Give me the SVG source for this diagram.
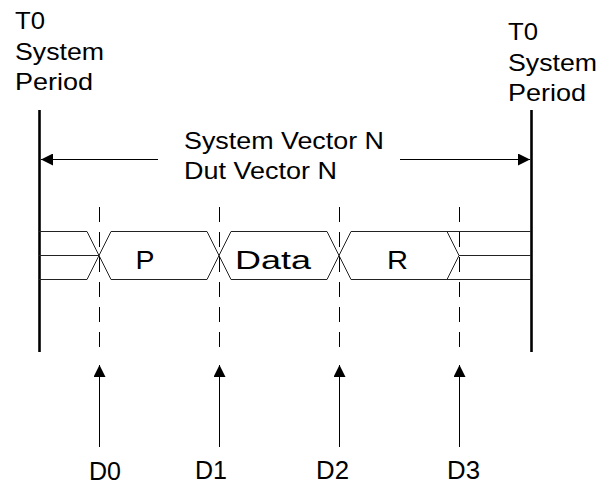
<svg xmlns="http://www.w3.org/2000/svg" width="610" height="486" viewBox="0 0 610 486">
<defs>
<style>
text{font-family:"Liberation Sans",Arial,sans-serif;fill:#000}
.lbl{font-size:24px}
.big{font-size:26px}
.dl{font-size:25px}
.thick{stroke:#000;stroke-width:2.6;fill:none}
.thin{stroke:#000;stroke-width:1;fill:none}
.sig{stroke:#222;stroke-width:1;fill:none}
.dash{stroke:#000;stroke-width:1;fill:none;stroke-dasharray:15 10}
</style>
<marker id="ah" markerUnits="userSpaceOnUse" markerWidth="12" markerHeight="12" refX="12" refY="6" orient="auto">
<path d="M0,0 L12,6 L0,12 z" fill="#000"/>
</marker>
</defs>
<rect width="610" height="486" fill="#fff"/>

<g id="left-period">
<text class="lbl" x="15" y="29" textLength="30" lengthAdjust="spacingAndGlyphs">T0</text>
<text class="lbl" x="15" y="60" textLength="89" lengthAdjust="spacingAndGlyphs">System</text>
<text class="lbl" x="15" y="90" textLength="78" lengthAdjust="spacingAndGlyphs">Period</text>
<line class="thick" x1="39.5" y1="110" x2="39.5" y2="352"/>
</g>

<g id="right-period">
<text class="lbl" x="508" y="40" textLength="30" lengthAdjust="spacingAndGlyphs">T0</text>
<text class="lbl" x="508" y="71" textLength="89" lengthAdjust="spacingAndGlyphs">System</text>
<text class="lbl" x="508" y="101" textLength="78" lengthAdjust="spacingAndGlyphs">Period</text>
<line class="thick" x1="531.5" y1="110" x2="531.5" y2="352"/>
</g>

<g id="vector-label">
<text class="lbl" x="184" y="149" textLength="200" lengthAdjust="spacingAndGlyphs">System Vector N</text>
<text class="lbl" x="184" y="179" textLength="153" lengthAdjust="spacingAndGlyphs">Dut Vector N</text>
</g>

<g id="signal">
<path class="sig" d="M39,231.5 H87 M39,279.5 H87 M39,255.5 H99 M87,231.5 L111,279.5 M87,279.5 L111,231.5 M111,231.5 H207 M111,279.5 H207 M207,231.5 L231,279.5 M207,279.5 L231,231.5 M231,231.5 H327 M231,279.5 H327 M327,231.5 L351,279.5 M327,279.5 L351,231.5 M351,231.5 H531 M351,279.5 H531 M447,231.5 L459,255.5 L447,279.5 M459,255.5 H531"/>
<text class="big" x="135.5" y="269" textLength="19" lengthAdjust="spacingAndGlyphs">P</text>
<text class="big" x="235" y="269" textLength="76" lengthAdjust="spacingAndGlyphs">Data</text>
<text class="big" x="387" y="269" textLength="21" lengthAdjust="spacingAndGlyphs">R</text>
</g>

<g id="markers">
<line class="dash" x1="99.5" y1="207" x2="99.5" y2="352"/>
<line class="dash" x1="219.5" y1="207" x2="219.5" y2="352"/>
<line class="dash" x1="339.5" y1="207" x2="339.5" y2="352"/>
<line class="dash" x1="459.5" y1="207" x2="459.5" y2="352"/>
</g>

<g id="D0"><text class="dl" x="89" y="480" textLength="32" lengthAdjust="spacingAndGlyphs">D0</text></g>
<g id="D1"><text class="dl" x="195" y="479" textLength="32" lengthAdjust="spacingAndGlyphs">D1</text></g>
<g id="D2"><text class="dl" x="316" y="479" textLength="33" lengthAdjust="spacingAndGlyphs">D2</text></g>
<g id="D3"><text class="dl" x="447" y="479" textLength="33" lengthAdjust="spacingAndGlyphs">D3</text></g>

<g id="connectors">
<line class="thin" x1="158" y1="159.5" x2="41" y2="159.5" marker-end="url(#ah)"/>
<line class="thin" x1="400" y1="159.5" x2="530" y2="159.5" marker-end="url(#ah)"/>
<line class="thin" x1="99.5" y1="447" x2="99.5" y2="365" marker-end="url(#ah)"/>
<line class="thin" x1="219.5" y1="447" x2="219.5" y2="365" marker-end="url(#ah)"/>
<line class="thin" x1="339.5" y1="447" x2="339.5" y2="365" marker-end="url(#ah)"/>
<line class="thin" x1="459.5" y1="447" x2="459.5" y2="365" marker-end="url(#ah)"/>
</g>
</svg>
